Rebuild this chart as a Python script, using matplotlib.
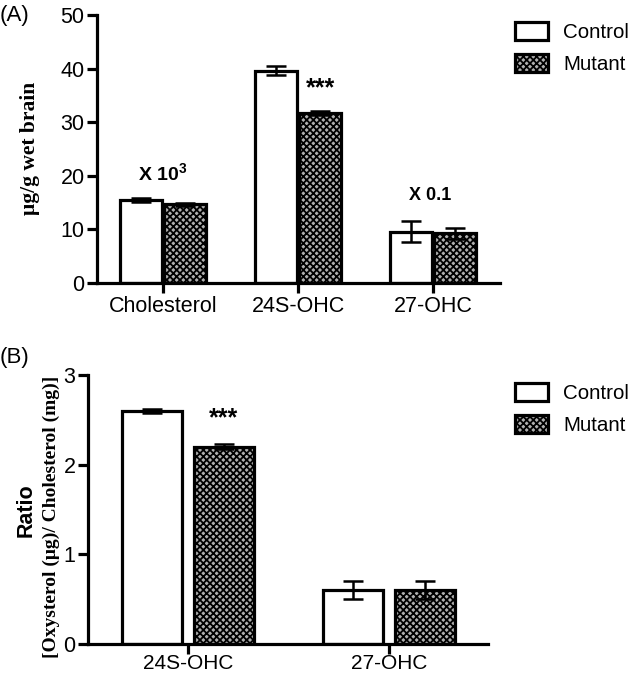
import matplotlib
matplotlib.use("Agg")
import matplotlib.pyplot as plt
import numpy as np
from matplotlib.patches import Patch

plt.rcParams['font.family'] = ['Liberation Sans', 'DejaVu Sans']
plt.rcParams['hatch.linewidth'] = 1.3
plt.rcParams['mathtext.fontset'] = 'custom'
plt.rcParams['mathtext.bf'] = 'Liberation Sans:bold'
plt.rcParams['mathtext.rm'] = 'Liberation Sans'

# Panel A data
cats_a = ["Cholesterol", "24S-OHC", "27-OHC"]
ctrl_a = [15.5, 39.6, 9.6]
ctrl_a_err = [0.3, 0.8, 2.0]
mut_a = [14.7, 31.7, 9.3]
mut_a_err = [0.3, 0.4, 1.0]

# Panel B data
cats_b = ["24S-OHC", "27-OHC"]
ctrl_b = [2.6, 0.6]
ctrl_b_err = [0.02, 0.1]
mut_b = [2.2, 0.6]
mut_b_err = [0.03, 0.1]

W, H = 633, 674
fig = plt.figure(figsize=(W/100, H/100), dpi=100)

LW = 2.3
FS = 15.5
SERIF = ['Liberation Serif', 'DejaVu Serif']

def style(ax):
    for s in ['top', 'right']:
        ax.spines[s].set_visible(False)
    for s in ['left', 'bottom']:
        ax.spines[s].set_linewidth(LW)
    ax.tick_params(axis='both', width=LW, length=7, labelsize=FS, pad=2)

def bars(ax, n, ctrl, cerr, mut, merr, width, off):
    x = np.arange(n)
    ax.bar(x - off, ctrl, width, color='white', edgecolor='black', linewidth=LW, zorder=2)
    ax.bar(x + off, mut, width, color='#b0b0b0', edgecolor='black', linewidth=LW,
           hatch='xxxxx', zorder=2)
    ax.errorbar(x - off, ctrl, yerr=cerr, fmt='none', ecolor='black', elinewidth=1.8,
                capsize=7, capthick=1.8, zorder=3)
    ax.errorbar(x + off, mut, yerr=merr, fmt='none', ecolor='black', elinewidth=1.8,
                capsize=7, capthick=1.8, zorder=3)
    return x

def legend(ax, y_top):
    handles = [Patch(facecolor='white', edgecolor='black', linewidth=LW, label='Control'),
               Patch(facecolor='#b0b0b0', edgecolor='black', linewidth=LW, hatch='xxxxx', label='Mutant')]
    ax.legend(handles=handles, loc='upper left', bbox_to_anchor=(515/W, 1 - y_top/H),
              bbox_transform=fig.transFigure, frameon=False, fontsize=14.8,
              handlelength=1.6, handleheight=1.0, labelspacing=0.55, handletextpad=0.75,
              borderaxespad=0, borderpad=0)

# Panel A
axA = fig.add_axes([97/W, 1 - 283/H, (500-97)/W, (283-15)/H])
xa = bars(axA, 3, ctrl_a, ctrl_a_err, mut_a, mut_a_err, 0.31, 0.165)
axA.set_xlim(-0.489, 2.496)
axA.set_ylim(0, 50)
axA.set_yticks([0, 10, 20, 30, 40, 50])
axA.set_xticks(xa)
axA.set_xticklabels(cats_a)
style(axA)
fig.text(30/W, 1 - 148/H, 'μg/g wet brain', rotation=90, ha='center', va='center',
         family=SERIF, fontweight='bold', fontsize=15.5)
axA.text(0, 20.3, r'X 10$^\mathbf{3}$', ha='center', va='center', fontsize=14, fontweight='bold')
axA.text(1 + 0.165, 36.3, '***', ha='center', va='center', fontsize=18, fontweight='bold')
axA.text(2 - 0.02, 16.4, 'X 0.1', ha='center', va='center', fontsize=13, fontweight='bold')
legend(axA, 22)
fig.text(0, 1 - 16/H, '(A)', fontsize=16, ha='left', va='center')

# Panel B
axB = fig.add_axes([88/W, 1 - 644/H, (488-88)/W, (644-375)/H])
xb = bars(axB, 2, ctrl_b, ctrl_b_err, mut_b, mut_b_err, 0.30, 0.178)
axB.set_xlim(-0.4975, 1.4925)
axB.set_ylim(0, 3)
axB.set_yticks([0, 1, 2, 3])
axB.set_xticks(xb)
axB.set_xticklabels(cats_b)
style(axB)
axB.tick_params(axis='x', pad=0, labelsize=15)
axB.text(0.178, 2.52, '***', ha='center', va='center', fontsize=18, fontweight='bold')
fig.text(26/W, 1 - 510/H, 'Ratio', rotation=90, ha='center', va='center',
         fontsize=FS, fontweight='bold')
fig.text(51/W, 1 - 517/H, '[Oxysterol (μg)/ Cholesterol (mg)]', rotation=90,
         ha='center', va='center', fontsize=14, fontweight='bold', family=SERIF)
legend(axB, 383)
fig.text(0, 1 - 357/H, '(B)', fontsize=16, ha='left', va='center')

fig.savefig('out.png', dpi=100)
